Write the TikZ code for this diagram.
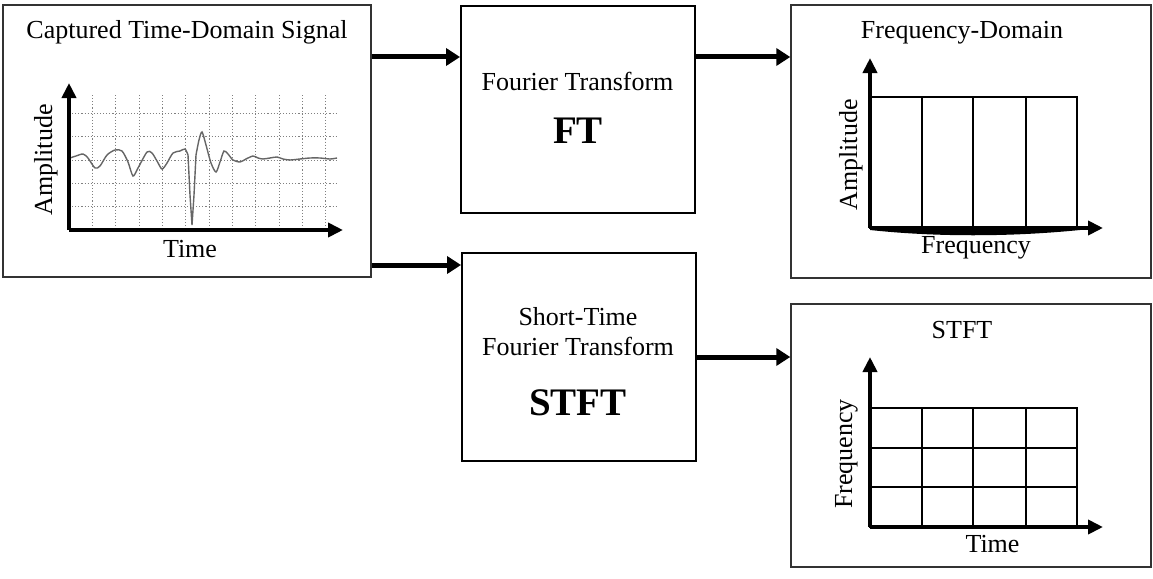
\documentclass[tikz,border=0pt]{standalone}
\usepackage{fontspec}
\setmainfont{Liberation Serif}
\usetikzlibrary{arrows.meta}

\tikzset{
  panel/.style={draw=black!80, line width=1.4pt, fill=white, inner sep=0pt},
  procbox/.style={draw=black, line width=1.9pt, fill=white, inner sep=0pt},
  label/.style={font=\fontsize{26}{30}\selectfont, inner sep=0pt, anchor=base},
  biglabel/.style={font=\fontsize{39}{44}\selectfont\bfseries, inner sep=0pt, anchor=base},
  flow/.style={line width=5pt, -{Triangle[length=14pt,width=17pt]}},
  axis/.style={line width=4pt, -{Triangle[length=15pt,width=14pt]}},
  gridline/.style={line width=2pt, black},
  dotgrid/.style={black!50, line width=0.9pt, dash pattern=on 1.1pt off 2pt},
  trace/.style={black!60, line width=1.4pt},
}

\begin{document}
\begin{tikzpicture}[x=1pt,y=-1pt]
\useasboundingbox (0,0) rectangle (1153,578);

% ---- panels and processing blocks ----
\node[panel, minimum width=368pt, minimum height=272pt] (sig) at (187,141) {};
\node[procbox, minimum width=234pt, minimum height=207pt] (ft) at (578,109.5) {};
\node[procbox, minimum width=234pt, minimum height=208pt] (stft) at (579,357) {};
\node[panel, minimum width=360pt, minimum height=273pt] (spec) at (971,141.5) {};
\node[panel, minimum width=360pt, minimum height=263pt] (tfmap) at (971,435.5) {};

% ---- block texts ----
\node[label] (ftname) at (577.5,90.7) {Fourier Transform};
\node[biglabel] (ftabbr) at (578,143) {FT};
\node[label] (stname1) at (578,325) {Short-Time};
\node[label] (stname2) at (578,355) {Fourier Transform};
\node[biglabel] (stabbr) at (578,415) {STFT};

% ---- connectors ----
\coordinate (rowa) at (0,57);
\coordinate (rowb) at (0,265);
\coordinate (rowc) at (0,357);
\draw[flow] (sig.east |- rowa) -- (ft.west |- rowa);
\draw[flow] (ft.east |- rowa) -- (spec.west |- rowa);
\draw[flow] (sig.east |- rowb) -- (stft.west |- rowb);
\draw[flow] (stft.east |- rowc) -- (tfmap.west |- rowc);

% ---- captured time-domain signal ----
\node[label] (sigtitle) at (187,38) {Captured Time-Domain Signal};
\foreach \k in {1,...,11}
  \draw[dotgrid] ({69+23.33*\k},95) -- ({69+23.33*\k},230);
\foreach \k in {1,...,5}
  \draw[dotgrid] (69,{230-23.33*\k}) -- (337,{230-23.33*\k});
\draw[trace] plot[smooth, tension=0.45] coordinates {
  (70,158) (76,156) (83,154) (88,158) (95,168) (100,166) (107,155)
  (115,150) (122,151) (128,162) (133,176) (138,168) (147,152) (152,153)
  (157,161) (162,169) (167,163) (173,153) (180,151) (185,149) (188,155)};
\draw[trace] (188,155) -- (190,195) -- (192,225) -- (194,195) -- (196,155);
\draw[trace] plot[smooth, tension=0.45] coordinates {
  (196,155) (199,140) (202,132) (206,145) (211,163) (216,172) (220,162)
  (224,151) (228,154) (233,160) (240,162) (246,159) (253,156) (258,158)
  (263,159) (270,158) (277,157) (283,159) (290,160) (300,159) (310,158)
  (320,158) (330,159) (337,158)};
\coordinate (sigo) at (69,230);
\draw[axis] (sigo) -- (69,83);
\draw[axis] (sigo) -- (343,230);
\node[label, rotate=90] (sigy) at (52,160) {Amplitude};
\node[label] (sigx) at (190,257) {Time};

% ---- frequency-domain panel ----
\node[label] (spectitle) at (962,39) {Frequency-Domain};
\draw[gridline] (870,97) rectangle (1077,228);
\foreach \x in {922,973,1026}
  \draw[gridline] (\x,97) -- (\x,228);
\fill[black] (870,226) -- (1080,226) -- (1080,230)
  .. controls (1010,237) and (935,237) .. (870,230) -- cycle;
\coordinate (speco) at (870,228);
\draw[axis] (speco) -- (870,58);
\draw[axis] (speco) -- (1103,228);
\node[label, rotate=90] (specy) at (857,155) {Amplitude};
\node[label] (specx) at (976,253) {Frequency};

% ---- STFT panel ----
\node[label] (tftitle) at (962,338) {STFT};
\draw[gridline] (870,408) rectangle (1077,527);
\foreach \x in {922,973,1026}
  \draw[gridline] (\x,408) -- (\x,527);
\foreach \y in {448,487}
  \draw[gridline] (870,\y) -- (1077,\y);
\coordinate (tfo) at (870,527);
\draw[axis] (tfo) -- (870,357);
\draw[axis] (tfo) -- (1103,527);
\node[label, rotate=90] (tfy) at (852,454) {Frequency};
\node[label] (tfx) at (992.5,552) {Time};
\end{tikzpicture}
\end{document}
